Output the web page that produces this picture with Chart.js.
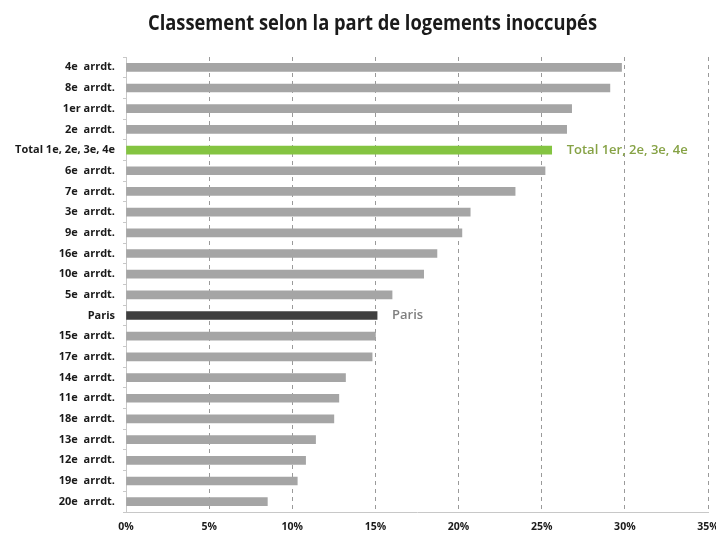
<!DOCTYPE html>
<html>
<head>
<meta charset="utf-8">
<script src="https://cdn.jsdelivr.net/npm/chart.js@4/dist/chart.umd.min.js"></script>
<style>
  html, body { margin: 0; padding: 0; background: #ffffff; }
  #wrap { width: 716px; height: 533px; position: relative; overflow: hidden; }
</style>
</head>
<body>
<div id="wrap"><canvas id="chart" width="716" height="533"></canvas></div>
<script>
// Part de logements inoccupés par arrondissement (%)
const categories = [
  '4e  arrdt.', '8e  arrdt.', '1er arrdt.', '2e  arrdt.', 'Total 1e, 2e, 3e, 4e',
  '6e  arrdt.', '7e  arrdt.', '3e  arrdt.', '9e  arrdt.', '16e  arrdt.', '10e  arrdt.',
  '5e  arrdt.', 'Paris', '15e  arrdt.', '17e  arrdt.', '14e  arrdt.', '11e  arrdt.',
  '18e  arrdt.', '13e  arrdt.', '12e  arrdt.', '19e  arrdt.', '20e  arrdt.'
];
const vacancyRate = [
  29.8, 29.1, 26.8, 26.5, 25.6,
  25.2, 23.4, 20.7, 20.2, 18.7, 17.9,
  16.0, 15.1, 15.0, 14.8, 13.2, 12.8,
  12.5, 11.4, 10.8, 10.3, 8.5
];
const xTicks = [0, 5, 10, 15, 20, 25, 30, 35];

const TOTAL_LABEL = 'Total 1e, 2e, 3e, 4e';
const PARIS_LABEL = 'Paris';
const FONT = '"Open Sans", "DejaVu Sans", sans-serif';

const barColors = categories.map(c =>
  c === TOTAL_LABEL ? '#84c441' : (c === PARIS_LABEL ? '#3f3f3f' : '#a5a5a5'));

// Title drawn above the plot, condensed horizontally to a fixed width
const titlePlugin = {
  id: 'pageTitle',
  afterDraw(chart) {
    const ctx = chart.ctx;
    const text = 'Classement selon la part de logements inoccupés';
    ctx.save();
    ctx.font = 'bold 22px ' + FONT;
    ctx.fillStyle = '#1a1a1a';
    ctx.textAlign = 'center';
    ctx.textBaseline = 'alphabetic';
    const w = ctx.measureText(text).width;
    const targetW = 449;
    ctx.translate(372.5, 30);
    ctx.scale(targetW / w, 1);
    ctx.fillText(text, 0, 0);
    ctx.restore();
  }
};

// Callout text next to the highlighted bars
const calloutPlugin = {
  id: 'callouts',
  afterDatasetsDraw(chart) {
    const meta = chart.getDatasetMeta(0);
    const ctx = chart.ctx;
    const callouts = [
      { cat: TOTAL_LABEL, text: 'Total 1er, 2e, 3e, 4e', color: '#86a245' },
      { cat: PARIS_LABEL, text: 'Paris', color: '#7f7f7f' }
    ];
    ctx.save();
    ctx.font = '600 13px ' + FONT;
    ctx.textAlign = 'left';
    ctx.textBaseline = 'middle';
    callouts.forEach(c => {
      const i = categories.indexOf(c.cat);
      const el = meta.data[i];
      ctx.fillStyle = c.color;
      ctx.fillText(c.text, el.x + 15, el.y);
    });
    ctx.restore();
  }
};

new Chart(document.getElementById('chart'), {
  type: 'bar',
  data: {
    labels: categories,
    datasets: [{
      data: vacancyRate,
      backgroundColor: barColors,
      borderWidth: 0,
      barThickness: 8
    }]
  },
  options: {
    indexAxis: 'y',
    responsive: false,
    animation: false,
    layout: { padding: { top: 57, right: 8, bottom: 0, left: 0 } },
    plugins: {
      legend: { display: false },
      tooltip: { enabled: false },
      title: { display: false }
    },
    scales: {
      x: {
        min: 0,
        max: 35,
        afterBuildTicks(scale) { scale.ticks = xTicks.map(v => ({ value: v })); },
        afterFit(scale) { scale.height = 21; scale.paddingLeft = 0; scale.paddingRight = 0; },
        ticks: {
          callback: v => v + '%',
          font: { family: FONT, size: 10.5, weight: 'bold' },
          color: '#1a1a1a',
          padding: 9,
          maxRotation: 0
        },
        grid: {
          color: ctx => ctx.tick && ctx.tick.value === 0 ? 'rgba(0,0,0,0)' : '#9a9a9a',
          lineWidth: 1,
          drawTicks: false
        },
        border: { display: true, color: '#c8c8c8', dash: [4, 4] }
      },
      y: {
        afterFit(scale) { scale.width = 126; },
        ticks: {
          font: { family: FONT, size: 11, weight: 'bold' },
          color: '#1a1a1a',
          padding: 8,
          autoSkip: false
        },
        grid: {
          drawOnChartArea: false,
          drawTicks: true,
          tickLength: 3,
          color: '#c8c8c8',
          offset: true
        },
        border: { display: true, color: '#c8c8c8' }
      }
    }
  },
  plugins: [titlePlugin, calloutPlugin]
});
</script>
</body>
</html>
